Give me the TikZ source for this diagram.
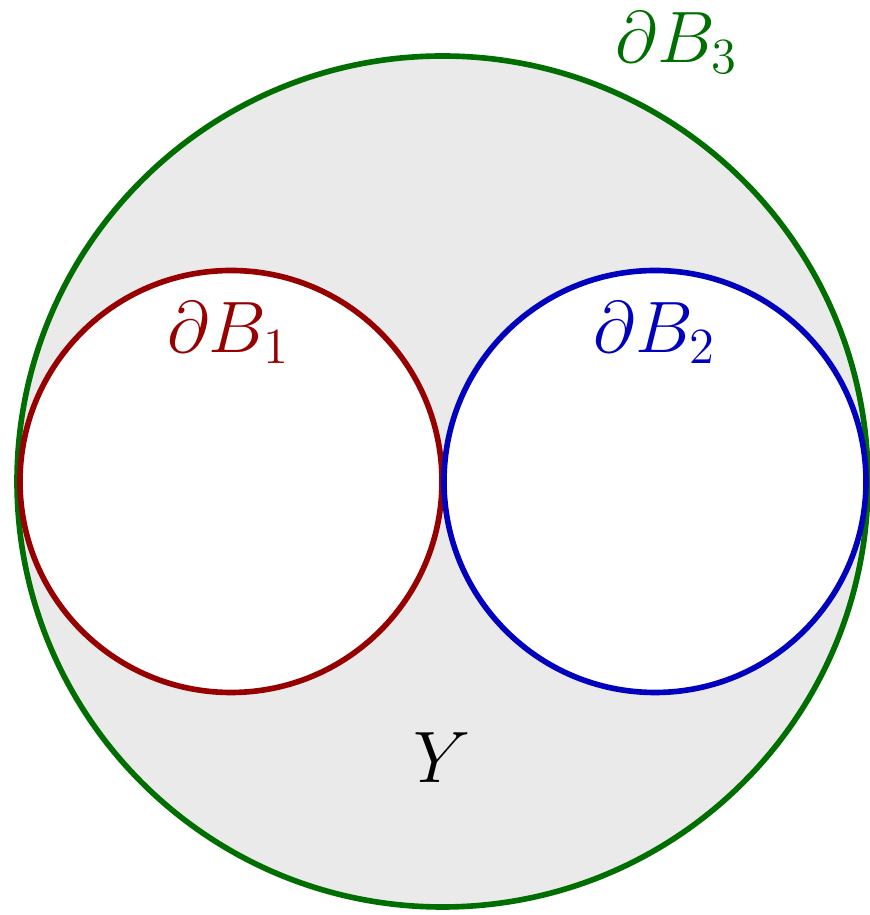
\documentclass[tikz,border=0pt]{standalone}
\usepackage{amsmath}

\definecolor{outergreen}{RGB}{0,110,0}
\definecolor{leftred}{RGB}{150,0,0}
\definecolor{rightblue}{RGB}{0,0,190}
\definecolor{regiongray}{RGB}{234,234,234}

\tikzset{
    boundary/.style={line width=1.6pt},
    ballname/.style={anchor=base, font=\fontsize{19.5}{23}\selectfont}
}

\begin{document}
\begin{tikzpicture}
    \useasboundingbox (0,0) rectangle (8.7,9.15);

    \coordinate (c3) at (4.425, 4.335);
    \coordinate (c1) at (2.31, 4.335);
    \coordinate (c2) at (6.55, 4.335);

    % the region Y between the three spheres
    \draw[boundary, fill=regiongray, draw=outergreen] (c3) circle (4.255cm);
    \draw[boundary, fill=white, draw=leftred] (c1) circle (2.11cm);
    \draw[boundary, fill=white, draw=rightblue] (c2) circle (2.11cm);

    \node[ballname, outergreen] (lab3) at (6.77, 8.52) {$\partial B_3$};
    \node[ballname, leftred] (lab1) at (2.285, 5.62) {$\partial B_1$};
    \node[ballname, rightblue] (lab2) at (6.55, 5.62) {$\partial B_2$};

    \node[ballname] (labY) at (4.42, 1.32) {$Y$};
\end{tikzpicture}
\end{document}
